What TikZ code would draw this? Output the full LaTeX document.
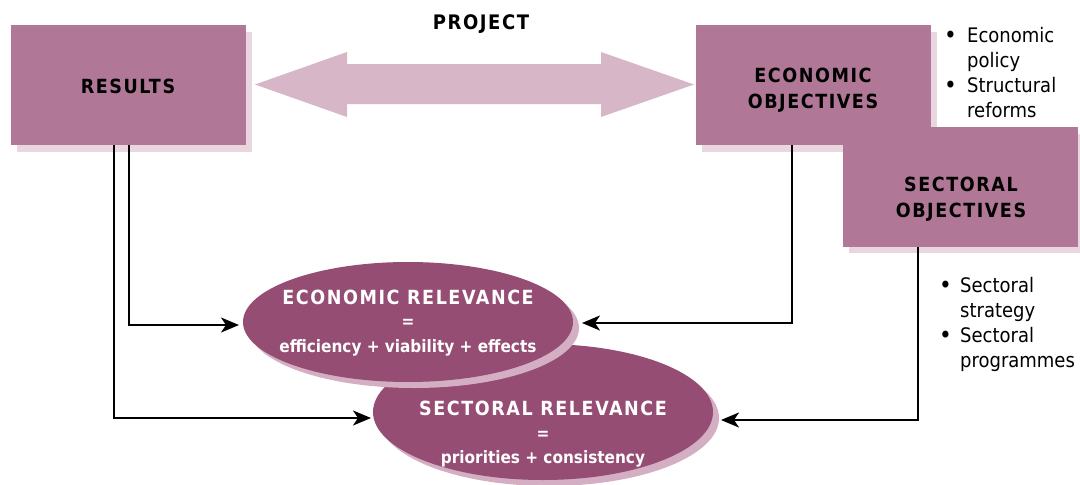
\documentclass[tikz,border=0pt]{standalone}
\usepackage{fontspec}
\setmainfont{DejaVu Sans Condensed}
\newfontfamily\capsfont[LetterSpace=8]{DejaVu Sans Condensed Bold}
\usetikzlibrary{arrows.meta}
\definecolor{boxc}{HTML}{B07896}
\definecolor{boxsh}{HTML}{E9D6DF}
\definecolor{arrc}{HTML}{D6B6C7}
\definecolor{ellc}{HTML}{964D73}
\definecolor{ellsh}{HTML}{D4AFC3}
\newcommand{\bigbul}{\raisebox{-0.12ex}{\scalebox{1.2}{\textbullet}}}
\begin{document}
\begin{tikzpicture}[x=1pt,y=-1pt,
  objbox/.style={fill=boxc,draw=none,minimum width=235pt,minimum height=120pt,inner sep=0pt},
  boxtext/.style={font=\capsfont\fontsize{19.5}{26}\selectfont,align=center,text=black},
  bul/.style={font=\fontsize{20}{25}\selectfont,align=left,anchor=north west,inner sep=0pt},
  conn/.style={line width=2.2pt,-{Stealth[length=18pt,width=15pt,inset=5pt]}},
  elltitle/.style={font=\capsfont\fontsize{19.5}{26}\selectfont,text=white},
  elltext/.style={font=\bfseries\fontsize{17}{26}\selectfont,text=white}]
\useasboundingbox (0,0) rectangle (1080,485);
% shadows
\fill[boxsh] (17,32) rectangle (252,152);
\fill[boxsh] (702,32) rectangle (937,152);
\fill[boxsh] (849,134) rectangle (1084,253);
% boxes
\node[objbox,anchor=north west] (res) at (11,25) {};
\node[boxtext] at (128,86) {RESULTS};
\node[objbox,anchor=north west] (eco) at (696,25) {};
\node[boxtext] at (813,90.5) {ECONOMIC\\OBJECTIVES};
\node[objbox,anchor=north west] (sec) at (843,127) {};
\node[boxtext] at (961,199.5) {SECTORAL\\OBJECTIVES};
% double arrow
\fill[arrc] (255,84.5) -- (347,52) -- (347,64) -- (601,64) -- (601,52) -- (694,84.5)
  -- (601,117) -- (601,104) -- (347,104) -- (347,117) -- cycle;
\node[font=\capsfont\fontsize{20}{22}\selectfont,text=black] (proj) at (481,24) {PROJECT};
% bullets
\node[bul] (b1) at (944,27) {\makebox[23pt][l]{\bigbul}Economic\\\hspace*{23pt}policy\\\makebox[23pt][l]{\bigbul}Structural\\\hspace*{23pt}reforms};
\node[bul] (b2) at (939,277) {\makebox[21pt][l]{\bigbul}Sectoral\\\hspace*{21pt}strategy\\\makebox[21pt][l]{\bigbul}Sectoral\\\hspace*{21pt}programmes};
% ellipses
\fill[ellsh] (549,418) ellipse [x radius=170pt,y radius=68pt];
\fill[ellc] (543,412) ellipse [x radius=170pt,y radius=68pt];
\coordinate (srL) at (371,418);
\coordinate (srR) at (721,420);
\node[elltitle] at (543,408) {SECTORAL RELEVANCE};
\node[elltext] at (543,435) {=};
\node[elltext] at (543,459) {priorities + consistency};
\fill[ellsh] (414,328) ellipse [x radius=165pt,y radius=60pt];
\fill[ellc] (408,322) ellipse [x radius=165pt,y radius=60pt];
\coordinate (erL) at (239,325);
\coordinate (erR) at (582,323);
\node[elltitle] at (408,297) {ECONOMIC RELEVANCE};
\node[elltext] at (408,323.5) {=};
\node[elltext] at (408,348) {efficiency + viability + effects};
% connectors
\draw[conn] (res.south -| 129,0) |- (erL);
\draw[conn] (res.south -| 114,0) |- (srL);
\draw[conn] (eco.south -| 792,0) |- (erR);
\draw[conn] (sec.south -| 918,0) |- (srR);
\end{tikzpicture}
\end{document}
